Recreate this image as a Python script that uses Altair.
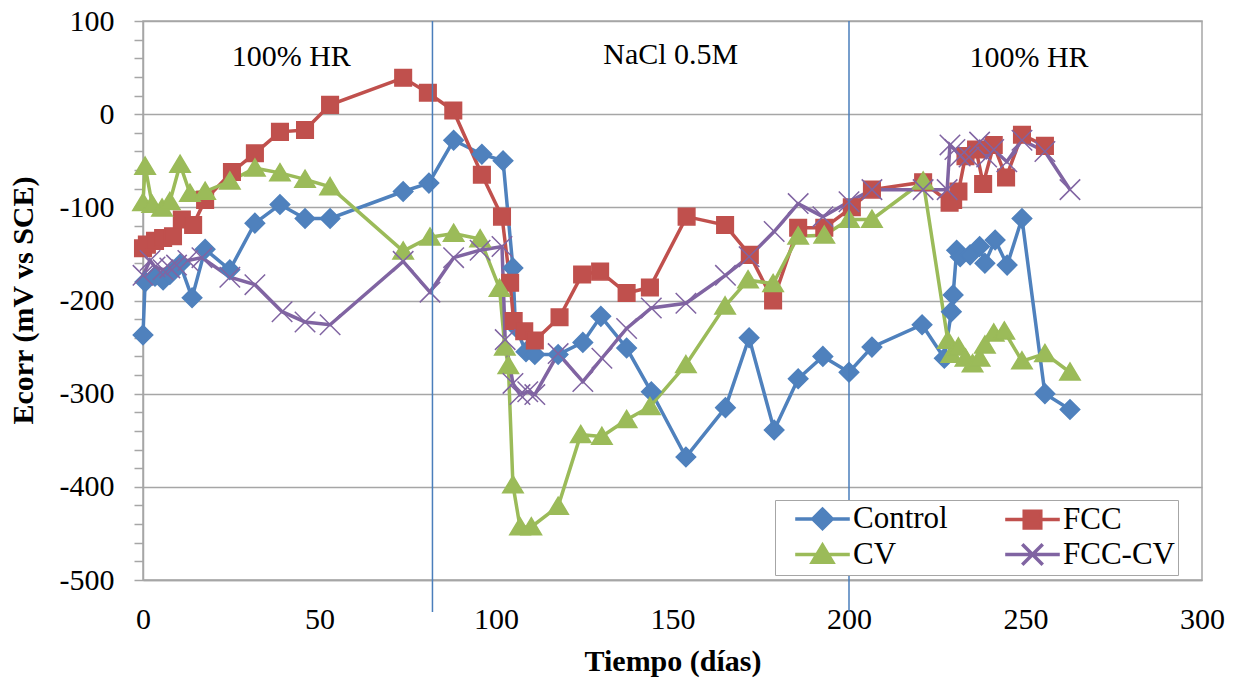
import altair as alt
import pandas as pd

# legend is laid out column-major, so this order gives rows: Control | FCC, CV | FCC-CV
series_names = ["Control", "CV", "FCC", "FCC-CV"]
series_colors = ["#4F81BD", "#9BBB59", "#C0504D", "#8064A2"]

control_t = [0, 0.6, 3.4, 5.7, 7.6, 10.5, 13.9, 17.6, 24.6, 31.7, 38.8, 45.9, 53, 73.7, 81, 88, 96, 102,
             104.8, 105.5, 108.5, 111, 117.6, 124.6, 129.7, 137, 144, 153.8, 165, 171.7, 178.8, 185.6,
             192.6, 200, 206.5, 220.7, 227, 229, 229.5, 230.5, 231.5, 234.3, 237, 238.5, 241.4, 244.8,
             249, 255.5, 262.6]
control_e = [-237, -180, -174, -178, -172, -161, -197, -145, -167, -117, -97, -112, -112, -83, -74, -28, -43, -50,
             -165, -228, -255, -258, -258, -245, -217, -251, -298, -368, -315, -240, -339, -284,
             -260, -277, -250, -226, -262, -212, -194, -146, -153, -151, -142, -160, -135, -162,
             -112, -300, -317]

fcc_t = [0, 1.1, 3.4, 5.7, 8.5, 11, 14.2, 17.6, 25.2, 31.7, 38.8, 45.9, 53, 73.7, 80.7, 87.9, 96, 101.7,
         104, 105, 108, 111, 118, 124.4, 129.5, 137, 143.6, 154, 164.9, 171.9, 178.5, 185.6, 193, 200.8,
         206.5, 221, 228.5, 229.5, 231, 233, 236, 238, 241, 244.5, 249, 255.5]
fcc_e = [-144, -140, -136, -133, -131, -113, -119, -92, -62, -42, -19, -17, 10, 39, 23, 4, -65, -110,
         -181, -222, -233, -243, -218, -172, -169, -192, -186, -110, -119, -151, -200, -122, -122, -100,
         -81, -73, -95, -92, -83, -45, -38, -75, -33, -68, -22, -34]

cv_t = [0, 0.6, 2.6, 5.4, 7.6, 10.5, 13.3, 17.6, 24.6, 31.7, 38.8, 45.9, 53, 73.7, 81.3, 88, 95.5, 101,
        102.5, 103.5, 104.8, 106.8, 110, 117.6, 124, 130, 137, 143.6, 153.8, 164.9, 171.4, 178.5, 185.6,
        193, 200, 206.5, 221, 228, 229, 231, 233, 235, 237, 238.5, 241, 244, 249, 255.5, 262.6]
cv_e = [-95, -56, -97, -101, -94, -54, -85, -83, -72, -58, -63, -70, -78, -147, -132, -128, -134, -187,
        -250, -270, -398, -443, -443, -421, -344, -346, -328, -314, -269, -206, -178, -182, -131,
        -130, -113, -113, -72, -243, -258, -250, -262, -268, -262, -248, -235, -233, -265, -257, -277]

fcccv_t = [0, 2, 3.4, 5.7, 7.6, 9.5, 12.7, 16.7, 24.6, 31.7, 39.4, 45.9, 53, 73.7, 81.3, 88, 95.5, 101.7,
           102.6, 104.8, 106.8, 109, 111, 117.6, 124.6, 130, 137, 144, 153.8, 165, 171.7, 178.8, 185.6,
           192.6, 200, 206.5, 221, 227.8, 228.6, 230, 231.5, 234, 237, 239, 241, 244.7, 249, 255.5, 262.6]
fcccv_e = [-173, -157, -164, -167, -165, -162, -157, -154, -175, -183, -212, -223, -226, -158, -191, -154, -146, -142,
           -242, -289, -301, -298, -301, -257, -287, -262, -230, -208, -203, -173, -153, -126, -96,
           -110, -94, -81, -81, -81, -33, -38, -45, -46, -30, -46, -38, -51, -28, -40, -81]

phase_labels = ["100% HR", "NaCl 0.5M", "100% HR"]
phase_label_t = [42, 149.5, 251]
phase_label_e = [61, 63, 60]
phase_bounds_t = [82, 200]

x_ticks = [0, 50, 100, 150, 200, 250, 300]
y_ticks = list(range(-500, 101, 20))

rows = []
for name, ts, es in [("Control", control_t, control_e), ("FCC", fcc_t, fcc_e),
                     ("CV", cv_t, cv_e), ("FCC-CV", fcccv_t, fcccv_e)]:
    for i, (a, b) in enumerate(zip(ts, es)):
        rows.append({"series": name, "t": a, "e": b, "i": i})
df = pd.DataFrame(rows)

labels_df = pd.DataFrame({"label": phase_labels, "t": phase_label_t, "e": phase_label_e})
bounds_df = pd.DataFrame({"t": phase_bounds_t})

shape_by_series = {
    "Control": "M-1,0L0,-1L1,0L0,1Z",
    "FCC": "M-0.85,-0.85H0.85V0.85H-0.85Z",
    "CV": "M0,-0.95L1.05,0.8L-1.05,0.8Z",
    "FCC-CV": "M-1.05,-1.05L1.05,1.05M-1.05,1.05L1.05,-1.05",
}
marker_paths = [shape_by_series[s] for s in series_names]
legend_paths = ["M-2.8,0H2.8" + p for p in marker_paths]

FONT = "Liberation Serif"

x_enc = alt.X("t:Q", scale=alt.Scale(domain=[0, 300], nice=False, zero=False),
              axis=alt.Axis(values=x_ticks, title="Tiempo (días)", grid=False, ticks=False,
                            labelFlush=False, labelOverlap=False,
                            labelFont=FONT, labelFontSize=30, labelColor="black",
                            titleFont=FONT, titleFontSize=30, titleFontWeight="bold", titleColor="black",
                            labelPadding=24, titleY=90, titleBaseline="alphabetic",
                            domainColor="#a6a6a6", domainWidth=1.5))
y_enc = alt.Y("e:Q", scale=alt.Scale(domain=[-500, 100], nice=False, zero=False),
              axis=alt.Axis(values=y_ticks, title="Ecorr (mV vs SCE)",
                            labelExpr="datum.value % 100 === 0 ? '' + datum.value : ''",
                            labelOverlap=False, labelFlush=False,
                            labelFont=FONT, labelFontSize=30, labelColor="black",
                            titleFont=FONT, titleFontSize=30, titleFontWeight="bold", titleColor="black",
                            grid=True,
                            gridColor={"condition": {"test": "datum.value % 100 === 0", "value": "#a6a6a6"},
                                       "value": "transparent"},
                            gridWidth=1.5, tickSize=9, tickColor="#a6a6a6", tickWidth=1.5,
                            labelPadding=20, domainColor="#a6a6a6", domainWidth=1.5,
                            titleX=-120, titleY=279, titleBaseline="middle", titleAngle=-90))

base = alt.Chart(df)
cscale = alt.Scale(domain=series_names, range=series_colors)

lines = base.mark_line(strokeWidth=3.5).encode(
    x=x_enc, y=y_enc,
    color=alt.Color("series:N", scale=cscale, legend=None),
    detail="series:N",
    order="i:Q",
)

points = base.mark_point(filled=True, size=380, strokeWidth=1.5, opacity=1).encode(
    x=x_enc, y=y_enc,
    color=alt.Color("series:N", scale=cscale, legend=None),
    stroke=alt.Stroke("series:N", scale=cscale, legend=None),
    shape=alt.Shape("series:N", scale=alt.Scale(domain=series_names, range=marker_paths), legend=None),
)

legend_layer = base.transform_filter("false").mark_point(filled=True, size=380, strokeWidth=3.5, opacity=1).encode(
    x=x_enc, y=y_enc,
    color=alt.Color("series:N", scale=cscale,
                    legend=alt.Legend(title=None, orient="none", legendX=632, legendY=479, columns=2,
                                      symbolSize=380, symbolStrokeWidth=3.5, symbolOffset=29,
                                      labelOffset=15, columnPadding=40, rowPadding=1, padding=3,
                                      labelFont=FONT, labelFontSize=31, labelColor="black",
                                      labelLimit=300,
                                      strokeColor="#a6a6a6", fillColor="white")),
    stroke=alt.Stroke("series:N", scale=cscale),
    shape=alt.Shape("series:N", scale=alt.Scale(domain=series_names, range=legend_paths)),
)

rules = alt.Chart(bounds_df).mark_rule(color="#4A7EBB", strokeWidth=1.5, clip=False).encode(
    x=x_enc, y=alt.value(0), y2=alt.value(591)
)

texts = alt.Chart(labels_df).mark_text(font=FONT, fontSize=30, color="black", align="center",
                                        baseline="middle").encode(
    x=x_enc, y=y_enc, text="label:N"
)

chart = alt.layer(lines, points, rules, texts, legend_layer).resolve_scale(
    color="independent", stroke="independent", shape="independent"
).properties(
    width=1059, height=559, autosize="none",
    padding={"left": 143, "top": 21, "right": 37, "bottom": 100},
).configure_view(stroke="#a6a6a6", strokeWidth=1.5).configure_axis(
    labelFont=FONT, titleFont=FONT, labelFontSize=30, titleFontSize=30,
    titleFontWeight="bold", labelColor="black", titleColor="black",
)

chart.save("out.html", embed_options={"renderer": "svg", "actions": False})
